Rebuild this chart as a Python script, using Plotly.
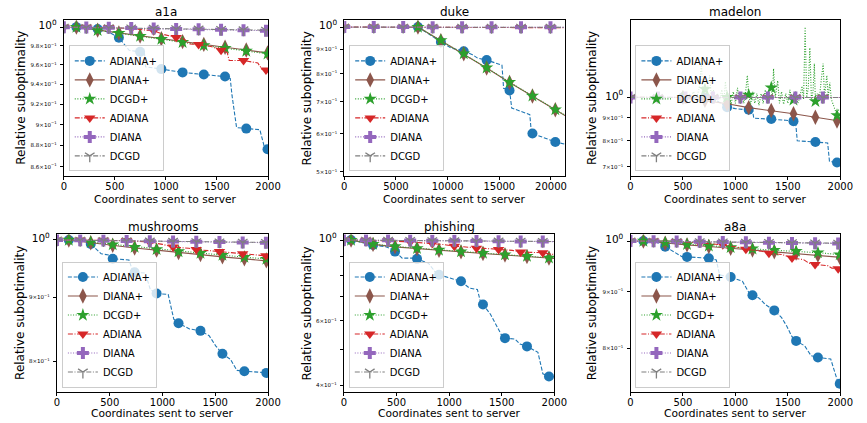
import plotly.graph_objects as go

W, H = 867, 423

# ---------------- data: (coordinates sent, relative suboptimality, marker shown) ----------------
A1A_ADIANA_PLUS = [(123, 1.0, 1), (331, 0.998, 1), (450, 0.994, 0), (539, 0.9887, 1), (640, 0.9752, 0),
                   (747, 0.9736, 1), (790, 0.972, 0), (800, 0.958, 0), (955, 0.9556, 1), (1163, 0.9522, 1),
                   (1371, 0.950, 1), (1579, 0.9479, 1), (1630, 0.946, 0), (1647, 0.929, 0), (1692, 0.897, 0),
                   (1787, 0.896, 1), (1920, 0.8949, 0), (1968, 0.877, 0), (1995, 0.8762, 1), (2050, 0.875, 0)]
A1A_DIANA_PLUS = [(123, 1.0, 1), (331, 0.9968, 1), (539, 0.9937, 1), (747, 0.9905, 1), (955, 0.9875, 1),
                  (1163, 0.9845, 1), (1371, 0.9815, 1), (1579, 0.9785, 1), (1787, 0.9755, 1), (1995, 0.9725, 1),
                  (2050, 0.9717, 0)]
A1A_DCGD_PLUS = [(123, 1.0, 1), (331, 0.9966, 1), (539, 0.9934, 1), (747, 0.9903, 1), (955, 0.9872, 1),
                 (1163, 0.9838, 1), (1371, 0.9805, 1), (1579, 0.9775, 1), (1787, 0.9745, 1), (1995, 0.9715, 1),
                 (2050, 0.9707, 0)]
A1A_ADIANA = [(0, 1.0, 1), (220, 1.0, 1), (440, 0.9995, 1), (660, 0.9985, 1), (880, 0.996, 1), (980, 0.992, 0),
              (1100, 0.9889, 1), (1180, 0.987, 0), (1230, 0.982, 0), (1320, 0.9814, 1), (1450, 0.979, 0),
              (1540, 0.9752, 1), (1600, 0.973, 0), (1620, 0.9645, 0), (1760, 0.9645, 1), (1900, 0.962, 0),
              (1940, 0.9555, 0), (1980, 0.9546, 1), (2050, 0.954, 0)]
A1A_DIANA = [(0, 1.0, 1), (220, 0.9997, 1), (440, 0.9993, 1), (660, 0.999, 1), (880, 0.9985, 1),
             (1100, 0.9981, 1), (1320, 0.9976, 1), (1540, 0.9971, 1), (1760, 0.9966, 1), (1980, 0.9961, 1),
             (2050, 0.996, 0)]
A1A_DCGD = [(0, 1.0, 1), (220, 0.9997, 1), (440, 0.9994, 1), (660, 0.9991, 1), (880, 0.9987, 1),
            (1100, 0.9983, 1), (1320, 0.9979, 1), (1540, 0.9975, 1), (1760, 0.9971, 1), (1980, 0.9967, 1),
            (2050, 0.9966, 0)]

DUKE_ADIANA_PLUS = [(7129, 1.0, 1), (9345, 0.931, 1), (10300, 0.905, 0), (11560, 0.891, 1), (12400, 0.876, 0),
                    (12900, 0.862, 0), (13775, 0.8537, 1), (15255, 0.8337, 0), (15413, 0.7462, 0),
                    (15990, 0.7384, 1), (16201, 0.6786, 0), (17949, 0.6577, 0), (18101, 0.603, 0),
                    (18205, 0.601, 1), (20420, 0.577, 1), (21500, 0.570, 0)]
DUKE_DIANA_PLUS = [(7129, 1.0, 1), (9345, 0.937, 1), (11560, 0.880, 1), (13775, 0.822, 1), (15990, 0.767, 1),
                   (18205, 0.719, 1), (20420, 0.673, 1), (21500, 0.652, 0)]
DUKE_DCGD_PLUS = [(7129, 1.0, 1), (9345, 0.938, 1), (11560, 0.881, 1), (13775, 0.823, 1), (15990, 0.768, 1),
                  (18205, 0.7196, 1), (20420, 0.6734, 1), (21500, 0.653, 0)]
DUKE_ADIANA = [(0, 1.0, 1), (2850, 1.0, 1), (5700, 0.9995, 1), (8550, 0.999, 1), (11400, 0.9985, 1),
               (14250, 0.998, 1), (17100, 0.9975, 1), (19950, 0.997, 1), (21500, 0.9968, 0)]
DUKE_DIANA = [(0, 1.0, 1), (2850, 1.0, 1), (5700, 0.9998, 1), (8550, 0.9996, 1), (11400, 0.9994, 1),
              (14250, 0.9992, 1), (17100, 0.999, 1), (19950, 0.9988, 1), (21500, 0.9987, 0)]
DUKE_DCGD = [(0, 1.0, 1), (2850, 1.0, 1), (5700, 0.9998, 1), (8550, 0.9996, 1), (11400, 0.9994, 1),
             (14250, 0.9992, 1), (17100, 0.999, 1), (19950, 0.9988, 1), (21500, 0.9987, 0)]

MADELON_ADIANA_PLUS = [(500, 1.0, 1), (710, 0.998, 1), (818, 0.985, 0), (921, 0.951, 1), (1000, 0.944, 0),
                       (1127, 0.939, 1), (1164, 0.935, 0), (1175, 0.899, 0), (1342, 0.895, 1), (1480, 0.889, 0),
                       (1554, 0.885, 1), (1575, 0.877, 0), (1590, 0.80, 0), (1763, 0.795, 1), (1880, 0.791, 0),
                       (1897, 0.72, 0), (1969, 0.7155, 1), (2050, 0.714, 0)]
MADELON_DIANA_PLUS = [(500, 1.0, 1), (710, 0.985, 1), (921, 0.968, 1), (1127, 0.949, 1), (1342, 0.935, 1),
                      (1554, 0.919, 1), (1763, 0.903, 1), (1969, 0.886, 1), (2050, 0.881, 0)]
MADELON_DCGD_PLUS = [(500, 1.0, 1), (530, 1.02, 0), (560, 0.99, 0), (600, 1.03, 0), (630, 0.995, 0),
                     (655, 1.05, 0), (677, 1.19, 0), (690, 1.0, 0), (710, 1.043, 1), (725, 1.02, 0),
                     (740, 1.07, 0), (755, 1.12, 0), (770, 1.0, 0), (790, 1.04, 0), (810, 0.98, 0),
                     (830, 1.02, 0), (850, 0.99, 0), (870, 1.04, 0), (890, 0.98, 0), (905, 1.085, 0),
                     (921, 1.0015, 1), (940, 1.02, 0), (960, 0.965, 0), (980, 1.03, 0), (1000, 0.97, 0),
                     (1020, 1.05, 0), (1040, 0.975, 0), (1060, 1.02, 0), (1080, 0.97, 0), (1100, 1.04, 0),
                     (1114, 1.12, 0), (1127, 1.013, 1), (1145, 0.965, 0), (1165, 1.03, 0), (1185, 0.97, 0),
                     (1205, 1.02, 0), (1225, 0.96, 0), (1245, 1.02, 0), (1265, 0.97, 0), (1285, 1.04, 0),
                     (1305, 0.975, 0), (1325, 1.03, 0), (1342, 1.052, 1), (1352, 0.99, 0), (1364, 1.16, 0),
                     (1380, 1.0, 0), (1404, 1.09, 0), (1420, 0.97, 0), (1440, 1.03, 0), (1460, 0.965, 0),
                     (1480, 1.02, 0), (1500, 0.97, 0), (1520, 1.04, 0), (1540, 0.975, 0), (1554, 0.988, 1),
                     (1575, 1.03, 0), (1595, 0.97, 0), (1615, 1.0, 0), (1635, 1.06, 0), (1650, 0.99, 0),
                     (1665, 1.436, 0), (1680, 1.0, 0), (1695, 1.05, 0), (1710, 1.29, 0), (1725, 0.99, 0),
                     (1740, 1.03, 0), (1753, 1.19, 0), (1763, 0.98, 1), (1780, 1.02, 0), (1800, 0.99, 0),
                     (1820, 1.1, 0), (1837, 1.19, 0), (1850, 1.0, 0), (1872, 1.12, 0), (1885, 1.0, 0),
                     (1900, 1.08, 0), (1915, 0.99, 0), (1935, 0.96, 0), (1950, 0.94, 0), (1969, 0.912, 1),
                     (1985, 0.94, 0), (2050, 0.93, 0)]
MADELON_ADIANA = [(0, 1.0, 1), (262, 0.9999, 1), (524, 0.9998, 1), (786, 0.9997, 1), (1048, 0.9996, 1),
                  (1310, 0.9995, 1), (1572, 0.9994, 1), (1834, 0.9993, 1), (2050, 0.9992, 0)]
MADELON_DIANA = [(0, 1.0, 1), (262, 1.0, 1), (524, 0.9999, 1), (786, 0.9999, 1), (1048, 0.9998, 1),
                 (1310, 0.9998, 1), (1572, 0.9997, 1), (1834, 0.9997, 1), (2050, 0.9996, 0)]
MADELON_DCGD = [(0, 1.0, 1), (262, 1.0, 1), (524, 0.9999, 1), (786, 0.9999, 1), (1048, 0.9998, 1),
                (1310, 0.9998, 1), (1572, 0.9997, 1), (1834, 0.9997, 1), (2050, 0.9996, 0)]

MUSH_ADIANA_PLUS = [(112, 1.0, 1), (240, 0.999, 0), (320, 0.9927, 1), (419, 0.975, 0), (512, 0.972, 0),
                    (528, 0.966, 1), (682, 0.964, 0), (713, 0.947, 0), (736, 0.9422, 1), (837, 0.941, 0),
                    (884, 0.913, 0), (944, 0.9063, 1), (1054, 0.9046, 0), (1107, 0.8643, 0), (1152, 0.858, 1),
                    (1256, 0.849, 0), (1360, 0.846, 1), (1442, 0.8385, 0), (1504, 0.823, 0), (1568, 0.811, 1),
                    (1643, 0.803, 0), (1705, 0.7866, 0), (1776, 0.7855, 1), (1984, 0.783, 1), (2050, 0.7825, 0)]
MUSH_DIANA_PLUS = [(112, 1.0, 1), (320, 0.995, 1), (528, 0.9905, 1), (736, 0.9855, 1), (944, 0.9815, 1),
                   (1152, 0.977, 1), (1360, 0.9735, 1), (1568, 0.9695, 1), (1776, 0.966, 1), (1984, 0.9624, 1),
                   (2050, 0.9612, 0)]
MUSH_DCGD_PLUS = [(112, 1.0, 1), (320, 0.996, 1), (528, 0.9915, 1), (736, 0.987, 1), (944, 0.983, 1),
                  (1152, 0.979, 1), (1360, 0.976, 1), (1568, 0.9725, 1), (1776, 0.969, 1), (1984, 0.9655, 1),
                  (2050, 0.9645, 0)]
MUSH_ADIANA = [(0, 1.0, 1), (220, 1.0, 1), (440, 0.9995, 1), (660, 0.999, 1), (880, 0.996, 1), (1000, 0.992, 0),
               (1100, 0.987, 1), (1250, 0.985, 0), (1320, 0.9825, 1), (1450, 0.981, 0), (1540, 0.979, 1),
               (1650, 0.977, 0), (1760, 0.975, 1), (1900, 0.972, 0), (1980, 0.9713, 1), (2050, 0.971, 0)]
MUSH_DIANA = [(0, 1.0, 1), (220, 0.99945, 1), (440, 0.9989, 1), (660, 0.99835, 1), (880, 0.9978, 1),
              (1100, 0.99725, 1), (1320, 0.9967, 1), (1540, 0.99615, 1), (1760, 0.9956, 1), (1980, 0.99505, 1),
              (2050, 0.9949, 0)]
MUSH_DCGD = [(0, 1.0, 1), (220, 0.9995, 1), (440, 0.999, 1), (660, 0.9985, 1), (880, 0.998, 1),
             (1100, 0.9975, 1), (1320, 0.997, 1), (1540, 0.9965, 1), (1760, 0.996, 1), (1980, 0.9955, 1),
             (2050, 0.9954, 0)]

PHISH_ADIANA_PLUS = [(68, 1.0, 1), (277, 0.9692, 1), (398, 0.959, 0), (476, 0.9394, 0), (486, 0.9297, 1),
                     (554, 0.892, 0), (676, 0.892, 0), (695, 0.888, 1), (803, 0.864, 0), (865, 0.820, 0),
                     (904, 0.8035, 1), (1005, 0.787, 0), (1113, 0.7706, 1), (1191, 0.739, 0), (1269, 0.7316, 0),
                     (1300, 0.673, 0), (1322, 0.666, 1), (1393, 0.626, 0), (1455, 0.5816, 0), (1502, 0.5464, 0),
                     (1531, 0.5384, 1), (1627, 0.5352, 0), (1673, 0.5187, 0), (1740, 0.5111, 1),
                     (1844, 0.4924, 0), (1891, 0.43, 0), (1949, 0.4228, 1), (2050, 0.42, 0)]
PHISH_DIANA_PLUS = [(68, 1.0, 1), (277, 0.973, 1), (486, 0.958, 1), (695, 0.947, 1), (904, 0.937, 1),
                    (1113, 0.928, 1), (1322, 0.919, 1), (1531, 0.910, 1), (1740, 0.901, 1), (1949, 0.892, 1),
                    (2050, 0.888, 0)]
PHISH_DCGD_PLUS = [(68, 1.0, 1), (277, 0.975, 1), (486, 0.960, 1), (695, 0.949, 1), (904, 0.939, 1),
                   (1113, 0.930, 1), (1322, 0.921, 1), (1531, 0.912, 1), (1740, 0.903, 1), (1949, 0.894, 1),
                   (2050, 0.890, 0)]
PHISH_ADIANA = [(0, 1.0, 1), (210, 0.999, 1), (420, 0.995, 1), (630, 0.988, 1), (840, 0.978, 1), (950, 0.972, 0),
                (1050, 0.962, 1), (1150, 0.958, 0), (1260, 0.950, 1), (1380, 0.946, 0), (1470, 0.942, 1),
                (1600, 0.937, 0), (1680, 0.927, 1), (1800, 0.924, 0), (1890, 0.923, 1), (1960, 0.915, 0),
                (2050, 0.91, 0)]
PHISH_DIANA = [(0, 1.0, 1), (210, 0.999, 1), (420, 0.998, 1), (630, 0.997, 1), (840, 0.996, 1), (1050, 0.995, 1),
               (1260, 0.9938, 1), (1470, 0.9926, 1), (1680, 0.9914, 1), (1890, 0.9902, 1), (2050, 0.9895, 0)]
PHISH_DCGD = [(0, 1.0, 1), (210, 0.999, 1), (420, 0.998, 1), (630, 0.9971, 1), (840, 0.9962, 1),
              (1050, 0.9953, 1), (1260, 0.9943, 1), (1470, 0.9933, 1), (1680, 0.9923, 1), (1890, 0.9913, 1),
              (2050, 0.9906, 0)]

A8A_ADIANA_PLUS = [(123, 1.0, 1), (225, 0.9986, 0), (318, 0.9917, 0), (331, 0.9883, 1), (412, 0.978, 0),
                   (490, 0.968, 0), (539, 0.9674, 1), (709, 0.9661, 0), (747, 0.9648, 1), (818, 0.9614, 0),
                   (849, 0.932, 0), (955, 0.9276, 1), (1067, 0.9194, 0), (1130, 0.8976, 0), (1163, 0.8932, 1),
                   (1223, 0.8882, 0), (1286, 0.876, 0), (1371, 0.8653, 1), (1441, 0.8524, 0), (1488, 0.838, 0),
                   (1535, 0.8206, 0), (1579, 0.812, 1), (1660, 0.8038, 0), (1722, 0.7873, 0), (1787, 0.7843, 1),
                   (1909, 0.782, 0), (1972, 0.7479, 0), (1995, 0.7426, 1), (2050, 0.740, 0)]
A8A_DIANA_PLUS = [(123, 1.0, 1), (331, 0.9955, 1), (539, 0.992, 1), (747, 0.9885, 1), (955, 0.985, 1),
                  (1163, 0.9815, 1), (1371, 0.978, 1), (1579, 0.975, 1), (1787, 0.971, 1), (1995, 0.9667, 1),
                  (2050, 0.9658, 0)]
A8A_DCGD_PLUS = [(123, 1.0, 1), (331, 0.9965, 1), (539, 0.993, 1), (747, 0.990, 1), (955, 0.987, 1),
                 (1163, 0.984, 1), (1371, 0.981, 1), (1579, 0.979, 1), (1787, 0.976, 1), (1995, 0.972, 1),
                 (2050, 0.971, 0)]
A8A_ADIANA = [(0, 1.0, 1), (220, 1.0, 1), (440, 0.999, 1), (660, 0.996, 1), (880, 0.992, 1), (1000, 0.988, 0),
              (1100, 0.983, 1), (1250, 0.979, 0), (1320, 0.975, 1), (1450, 0.972, 0), (1540, 0.965, 1),
              (1650, 0.962, 0), (1700, 0.955, 0), (1760, 0.952, 1), (1880, 0.950, 0), (1920, 0.945, 0),
              (1980, 0.944, 1), (2050, 0.943, 0)]
A8A_DIANA = [(0, 1.0, 1), (220, 0.9995, 1), (440, 0.999, 1), (660, 0.9984, 1), (880, 0.9978, 1),
             (1100, 0.9972, 1), (1320, 0.9966, 1), (1540, 0.996, 1), (1760, 0.9955, 1), (1980, 0.995, 1),
             (2050, 0.9948, 0)]
A8A_DCGD = [(0, 1.0, 1), (220, 0.9996, 1), (440, 0.9991, 1), (660, 0.9986, 1), (880, 0.998, 1),
            (1100, 0.9975, 1), (1320, 0.997, 1), (1540, 0.9965, 1), (1760, 0.996, 1), (1980, 0.9955, 1),
            (2050, 0.9953, 0)]

SERIES_NAMES = ["ADIANA+", "DIANA+", "DCGD+", "ADIANA", "DIANA", "DCGD"]
PANEL_TITLES = ["a1a", "duke", "madelon", "mushrooms", "phishing", "a8a"]
PANEL_SERIES = [
    [A1A_ADIANA_PLUS, A1A_DIANA_PLUS, A1A_DCGD_PLUS, A1A_ADIANA, A1A_DIANA, A1A_DCGD],
    [DUKE_ADIANA_PLUS, DUKE_DIANA_PLUS, DUKE_DCGD_PLUS, DUKE_ADIANA, DUKE_DIANA, DUKE_DCGD],
    [MADELON_ADIANA_PLUS, MADELON_DIANA_PLUS, MADELON_DCGD_PLUS, MADELON_ADIANA, MADELON_DIANA, MADELON_DCGD],
    [MUSH_ADIANA_PLUS, MUSH_DIANA_PLUS, MUSH_DCGD_PLUS, MUSH_ADIANA, MUSH_DIANA, MUSH_DCGD],
    [PHISH_ADIANA_PLUS, PHISH_DIANA_PLUS, PHISH_DCGD_PLUS, PHISH_ADIANA, PHISH_DIANA, PHISH_DCGD],
    [A8A_ADIANA_PLUS, A8A_DIANA_PLUS, A8A_DCGD_PLUS, A8A_ADIANA, A8A_DIANA, A8A_DCGD],
]
X_TICKS = [
    [0, 500, 1000, 1500, 2000],
    [0, 5000, 10000, 15000, 20000],
    [0, 500, 1000, 1500, 2000],
    [0, 500, 1000, 1500, 2000],
    [0, 500, 1000, 1500, 2000],
    [0, 500, 1000, 1500, 2000],
]
X_MAX = [2000, 21368, 2000, 2000, 2000, 2000]
# y ticks: (value, mantissa label; None = major "10^0", "" = unlabeled)
Y_TICKS = [
    [(1.0, None), (0.98, "9.8"), (0.96, "9.6"), (0.94, "9.4"), (0.92, "9.2"), (0.9, "9"), (0.88, "8.8"), (0.86, "8.6")],
    [(1.0, None), (0.9, "9"), (0.8, "8"), (0.7, "7"), (0.6, "6"), (0.5, "5")],
    [(1.0, None), (0.9, "9"), (0.8, "8"), (0.7, "7")],
    [(1.0, None), (0.9, "9"), (0.8, "8")],
    [(1.0, None), (0.9, ""), (0.8, ""), (0.7, ""), (0.6, "6"), (0.5, ""), (0.4, "4")],
    [(1.0, None), (0.9, "9"), (0.8, "8")],
]
# log10 y-range of each panel
Y_RANGES = [(-0.0699, 0.0032), (-0.3093, 0.0140), (-0.1753, 0.1722),
            (-0.1215, 0.0044), (-0.4165, 0.0152), (-0.1367, 0.0059)]

# ---------------- styles / geometry ----------------
STYLES = [
    dict(color="#1f77b4", dash="4px,1.8px", symbol="circle", size=10),
    dict(color="#8c564b", dash="solid", symbol="diamond-tall", size=11),
    dict(color="#2ca02c", dash="1px,1.6px", symbol="star", size=10),
    dict(color="#d62728", dash="5px,1.6px,1px,1.6px", symbol="triangle-down", size=10),
    dict(color="#9467bd", dash="1px,1.6px", symbol="cross", size=10),
    dict(color="#7f7f7f", dash="5px,1.6px,1px,1.6px", symbol="y-down", size=8),
]
# plot boxes in page pixels: left, right, top, bottom
BOXES = [(62, 270, 16.5, 173.5), (347.7, 572.7, 16.5, 173.5), (639.3, 853, 16.5, 173.5),
         (55, 270, 232.7, 391.7), (347.3, 561.7, 232.7, 391.7), (639.3, 853, 232.7, 391.7)]
YLABEL_X = [18, 310, 600, 18, 310, 600]
TITLE_Y = [8, 8, 8, 225, 225, 225]
XLABEL_Y = [197.5, 197.5, 197.5, 413, 413, 413]
FONT = "DejaVu Sans"


def px2x(p):
    return p / W


def px2y(p):
    return 1 - p / H


fig = go.Figure()
annotations = []
layout = dict(width=W, height=H, margin=dict(l=0, r=0, t=0, b=0),
              paper_bgcolor="white", plot_bgcolor="white",
              font=dict(family=FONT, color="black"), showlegend=True)

for k in range(6):
    sfx = "" if k == 0 else str(k + 1)
    xa, ya = "x" + sfx, "y" + sfx
    legname = "legend" + sfx
    left, right, top, bottom = BOXES[k]

    for s, pts in enumerate(PANEL_SERIES[k]):
        st = STYLES[s]
        xs = [p[0] for p in pts]
        ys = [p[1] for p in pts]
        sizes = [st["size"] if p[2] else 0 for p in pts]
        is_line_symbol = st["symbol"] == "y-down"
        marker = dict(symbol=st["symbol"], size=sizes, color=st["color"], opacity=1,
                      line=dict(color=st["color"], width=1.3 if is_line_symbol else 0))
        fig.add_trace(go.Scatter(x=xs, y=ys, mode="lines+markers", xaxis=xa, yaxis=ya,
                                 line=dict(color=st["color"], width=1.1, dash=st["dash"]),
                                 marker=marker, showlegend=False, hoverinfo="skip"))
    for s, name in enumerate(SERIES_NAMES):
        st = STYLES[s]
        is_line_symbol = st["symbol"] == "y-down"
        fig.add_trace(go.Scatter(x=[None], y=[None], mode="lines+markers", xaxis=xa, yaxis=ya, name=name,
                                 legend=legname,
                                 line=dict(color=st["color"], width=1.1, dash=st["dash"]),
                                 marker=dict(symbol=st["symbol"], size=st["size"], color=st["color"], opacity=1,
                                             line=dict(color=st["color"], width=1.3 if is_line_symbol else 0))))

    layout[legname] = dict(x=px2x(left + 5), y=px2y(bottom - 4.5), xanchor="left", yanchor="bottom",
                           bgcolor="rgba(255,255,255,0.8)", bordercolor="#cccccc", borderwidth=1,
                           font=dict(family=FONT, size=10, color="black"), tracegroupgap=0,
                           itemwidth=30)

    tickvals, ticktext = [], []
    for v, lab in Y_TICKS[k]:
        tickvals.append(v)
        if lab is None:
            ticktext.append('<span style="font-size:10.5px">10<sup>0</sup></span>')
        elif lab == "":
            ticktext.append(" ")
        else:
            ticktext.append('<span style="font-size:5.5px">%s×10<sup>−1</sup></span>' % lab)

    layout["xaxis" + sfx] = dict(domain=[px2x(left), px2x(right)], anchor=ya, range=[0, X_MAX[k]],
                                 tickmode="array", tickvals=X_TICKS[k], ticktext=[str(t) for t in X_TICKS[k]],
                                 showgrid=False, zeroline=False, showline=True, mirror=True,
                                 linecolor="black", linewidth=1, ticks="outside", ticklen=3.5, tickwidth=0.8,
                                 tickcolor="black", ticklabelstandoff=-2,
                                 tickfont=dict(family=FONT, size=10, color="black"))
    layout["yaxis" + sfx] = dict(domain=[px2y(bottom), px2y(top)], anchor=xa, type="log",
                                 range=list(Y_RANGES[k]), tickmode="array", tickvals=tickvals,
                                 ticktext=ticktext, showgrid=False, zeroline=False, showline=True,
                                 mirror=True, linecolor="black", linewidth=1, ticks="outside", ticklen=3,
                                 tickwidth=0.8, tickcolor="black", ticklabelstandoff=2,
                                 tickfont=dict(family=FONT, size=6, color="black"))

    cx = (left + right) / 2
    annotations.append(dict(text=PANEL_TITLES[k], x=px2x(cx), y=px2y(TITLE_Y[k]), xref="paper", yref="paper",
                            showarrow=False, xanchor="center", yanchor="middle",
                            font=dict(family=FONT, size=12, color="black")))
    annotations.append(dict(text="Coordinates sent to server", x=px2x(cx), y=px2y(XLABEL_Y[k]), xref="paper",
                            yref="paper", showarrow=False, xanchor="center", yanchor="middle",
                            font=dict(family=FONT, size=10.7, color="black")))
    annotations.append(dict(text="Relative suboptimality", x=px2x(YLABEL_X[k]), y=px2y((top + bottom) / 2),
                            xref="paper", yref="paper", showarrow=False, textangle=-90,
                            xanchor="center", yanchor="middle",
                            font=dict(family=FONT, size=12, color="black")))

layout["annotations"] = annotations
fig.update_layout(**layout)
# remove the browser's default page margin so the 867x423 figure fills the window exactly
fig.write_html("out.html", config={"displayModeBar": False},
               post_script="document.body.style.margin='0px';document.body.style.padding='0px';")
